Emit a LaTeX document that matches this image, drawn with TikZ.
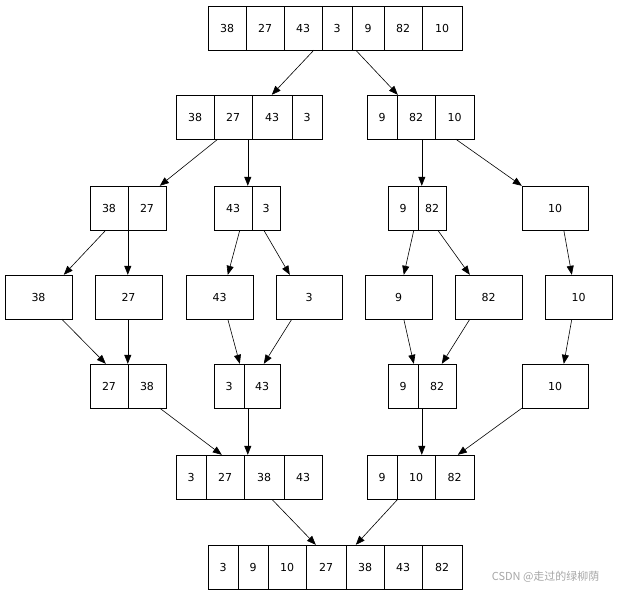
\documentclass[tikz,border=0pt]{standalone}
\usepackage{fontspec}
\setmainfont{DejaVu Sans}
\newfontfamily\cjk{Noto Sans CJK SC}
\usetikzlibrary{arrows.meta,calc}
\tikzset{cell/.style={draw,inner sep=0,minimum height=44pt,font=\fontsize{11}{13}\selectfont},
 rbox/.style={inner sep=0,minimum height=44pt},
 edge/.style={-{Triangle[width=7pt,length=9pt]},line width=0.6pt}}
\newcommand\rec[5]{% name, y, x0, x1, cells
 \pgfmathsetmacro\ww{#4-#3}\pgfmathsetmacro\cc{(#3+#4)/2}
 \node[rbox,minimum width=\ww pt] (#1) at (\cc,#2) {};
 \foreach \a/\b/\t [count=\i] in {#5} {
  \pgfmathsetmacro\w{\b-\a}\pgfmathsetmacro\c{(\a+\b)/2}
  \node[cell,minimum width=\w pt] (#1-\i) at (\c,#2) {\t};}}
\newcommand\ed[4]{\draw[edge] ($(#1.south west)+(#2,0)$) -- ($(#3.north west)+(#4,0)$);}
\begin{document}
\begin{tikzpicture}[x=1pt,y=-1pt]
\useasboundingbox (0,0) rectangle (618,595);
\rec{a}{28}{208}{462}{208/246/38,246/284/27,284/322/43,322/352/3,352/384/9,384/422/82,422/462/10}
\rec{bL}{117}{176}{322}{176/214/38,214/252/27,252/292/43,292/322/3}
\rec{bR}{117}{367}{474}{367/397/9,397/435/82,435/474/10}
\rec{c1}{208}{90}{166}{90/128/38,128/166/27}
\rec{c2}{208}{214}{280}{214/252/43,252/280/3}
\rec{c3}{208}{388}{446}{388/418/9,418/446/82}
\rec{c4}{208}{522}{588}{522/588/10}
\rec{d1}{297}{5}{72}{5/72/38}
\rec{d2}{297}{95}{162}{95/162/27}
\rec{d3}{297}{186}{253}{186/253/43}
\rec{d4}{297}{276}{342}{276/342/3}
\rec{d5}{297}{365}{432}{365/432/9}
\rec{d6}{297}{455}{522}{455/522/82}
\rec{d7}{297}{545}{612}{545/612/10}
\rec{e1}{386}{90}{166}{90/128/27,128/166/38}
\rec{e2}{386}{214}{280}{214/244/3,244/280/43}
\rec{e3}{386}{388}{456}{388/418/9,418/456/82}
\rec{e4}{386}{522}{588}{522/588/10}
\rec{f1}{477}{176}{322}{176/206/3,206/244/27,244/284/38,284/322/43}
\rec{f2}{477}{367}{474}{367/397/9,397/435/10,435/474/82}
\rec{g}{567}{208}{462}{208/238/3,238/268/9,268/306/10,306/346/27,346/384/38,384/422/43,422/462/82}
\ed{a}{106}{bL}{96}
\ed{a}{148}{bR}{31}
\ed{bL}{42}{c1}{70}
\ed{bL}{72}{c2}{34}
\ed{bR}{55}{c3}{34}
\ed{bR}{89}{c4}{0}
\ed{c1}{16}{d1}{59}
\ed{c1}{38}{d2}{33}
\ed{c2}{26}{d3}{42}
\ed{c2}{50}{d4}{14}
\ed{c3}{26}{d5}{39}
\ed{c3}{50}{d6}{15}
\ed{c4}{42}{d7}{27}
\ed{d1}{57}{e1}{16}
\ed{d2}{33}{e1}{38}
\ed{d3}{42}{e2}{26}
\ed{d4}{16}{e2}{50}
\ed{d5}{39}{e3}{26}
\ed{d6}{15}{e3}{54}
\ed{d7}{27}{e4}{42}
\ed{e1}{70}{f1}{46}
\ed{e2}{34}{f1}{72}
\ed{e3}{34}{f2}{55}
\ed{e4}{0}{f2}{91}
\ed{f1}{96}{g}{108}
\ed{f2}{31}{g}{148}
\node[text=gray!70,font=\cjk\fontsize{11}{13}\selectfont,anchor=east] (wm) at (603,577) {CSDN @走过的绿柳荫};
\end{tikzpicture}
\end{document}
